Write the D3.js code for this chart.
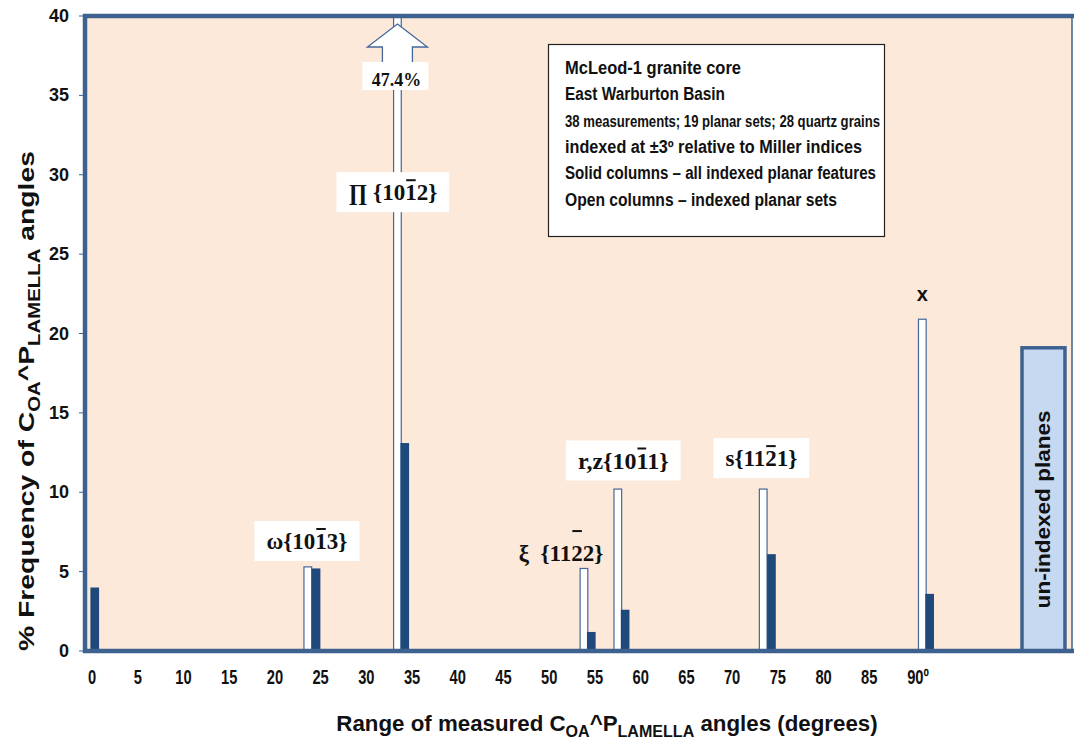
<!DOCTYPE html>
<html>
<head>
<meta charset="utf-8">
<script src="https://cdn.jsdelivr.net/npm/d3@7"></script>
<style>
  html, body { margin: 0; padding: 0; background: #ffffff; }
  svg { display: block; }
</style>
</head>
<body>
<svg id="chart" width="1075" height="749"></svg>
<script>
// Frequency of c-axis ^ lamella-pole angles, McLeod-1 granite core
const xTickValues = [0, 5, 10, 15, 20, 25, 30, 35, 40, 45, 50, 55, 60, 65, 70, 75, 80, 85, 90];
const yTickValues = [0, 5, 10, 15, 20, 25, 30, 35, 40];

// Open columns: indexed planar sets (%)
const openAngles = [23.6, 33.4, 53.8, 57.5, 73.4, 90.8];
const openValues = [5.3, 47.4, 5.2, 10.2, 10.2, 20.9];

// Solid columns: all indexed planar features (%)
const solidAngles = [0.3, 24.5, 34.2, 54.6, 58.3, 74.3, 91.6];
const solidValues = [4.0, 5.2, 13.1, 1.2, 2.6, 6.1, 3.6];

// Un-indexed planes column
const unindexedRange = [101.7, 106.4];
const unindexedValue = 19.1;

// Miller-index annotations: text, anchor angle, anchor value, overbar char index, boxed
const annotTexts = ["\u220F {1012}", "\u03C9{1013}", "\u03BE  {1122}", "r,z{1011}", "s{1121}"];
const annotAngles = [32.9, 23.5, 51.3, 58.1, 73.2];
const annotValues = [28.9, 6.93, 6.17, 12.0, 12.15];
const annotBarIdx = [5, 4, 6, 6, 4];
const annotBoxed = [true, true, false, true, true];

const legendLines = [
  "McLeod-1 granite core",
  "East Warburton Basin",
  "38 measurements; 19 planar sets; 28 quartz grains",
  "indexed at \u00B13\u00BA relative to Miller indices",
  "Solid columns \u2013 all indexed planar features",
  "Open columns \u2013 indexed planar sets"
];

const yMax = 40;
const clipLabel = "47.4%";

// ---- layout ----
const plot = { left: 85, right: 1072, top: 16, bottom: 651 };
const axisColor = "#3d6290";
const solidColor = "#1f487b";
const openStroke = "#45679a";
const bgColor = "#fde9d9";
const sansBold = "'Liberation Sans', Arial, sans-serif";
const serif = "'Liberation Serif', 'Times New Roman', 'DejaVu Serif', serif";
const legendWidths = [176, 160, 315, 297, 311, 272];
const legendSizes = [18, 18, 17, 18, 18, 18];

const svg = d3.select("#chart");

const x = d3.scaleLinear().domain([0, 90]).range([92, 915]);
const y = d3.scaleLinear().domain([0, yMax]).range([plot.bottom, plot.top]);
const barW = x(0.95) - x(0);

// squeeze text horizontally (condensed look)
function condense(sel, factor) {
  sel.each(function () {
    const len = this.getComputedTextLength();
    d3.select(this).attr("textLength", len * factor).attr("lengthAdjust", "spacingAndGlyphs");
  });
}

// plot background
svg.append("rect")
  .attr("x", plot.left).attr("y", plot.top)
  .attr("width", plot.right - plot.left).attr("height", plot.bottom - plot.top)
  .attr("fill", bgColor);

// open columns
svg.append("g").selectAll("rect")
  .data(openAngles.map((a, i) => ({ a, v: openValues[i] })))
  .join("rect")
  .attr("x", d => x(d.a) - barW / 2 + 0.5)
  .attr("y", d => y(Math.min(d.v, yMax)))
  .attr("width", barW - 1)
  .attr("height", d => y(0) - y(Math.min(d.v, yMax)))
  .attr("fill", "#ffffff")
  .attr("stroke", openStroke)
  .attr("stroke-width", 1.2);

// solid columns
svg.append("g").selectAll("rect")
  .data(solidAngles.map((a, i) => ({ a, v: solidValues[i] })))
  .join("rect")
  .attr("x", d => x(d.a) - barW / 2)
  .attr("y", d => y(d.v))
  .attr("width", barW)
  .attr("height", d => y(0) - y(d.v))
  .attr("fill", solidColor);

// un-indexed planes column
svg.append("rect")
  .attr("x", x(unindexedRange[0]))
  .attr("y", y(unindexedValue))
  .attr("width", x(unindexedRange[1]) - x(unindexedRange[0]))
  .attr("height", y(0) - y(unindexedValue))
  .attr("fill", "#c6d9f1")
  .attr("stroke", axisColor)
  .attr("stroke-width", 3.5);
svg.append("text")
  .attr("transform", `translate(${(x(unindexedRange[0]) + x(unindexedRange[1])) / 2 + 7},${(y(unindexedValue) + y(0)) / 2 + 10}) rotate(-90)`)
  .attr("text-anchor", "middle")
  .attr("font-family", sansBold).attr("font-weight", "bold").attr("font-size", 20)
  .attr("textLength", 198).attr("lengthAdjust", "spacingAndGlyphs")
  .attr("fill", "#111")
  .text("un-indexed planes");

// frame lines
svg.append("line").attr("x1", plot.left).attr("x2", plot.left).attr("y1", plot.top - 2).attr("y2", plot.bottom + 2)
  .attr("stroke", axisColor).attr("stroke-width", 4.5);
svg.append("line").attr("x1", plot.left - 2).attr("x2", plot.right + 2).attr("y1", plot.top).attr("y2", plot.top)
  .attr("stroke", axisColor).attr("stroke-width", 4.5);
svg.append("line").attr("x1", plot.left - 2).attr("x2", plot.right + 2).attr("y1", plot.bottom).attr("y2", plot.bottom)
  .attr("stroke", axisColor).attr("stroke-width", 4.5);
svg.append("line").attr("x1", plot.right).attr("x2", plot.right).attr("y1", plot.top).attr("y2", plot.bottom)
  .attr("stroke", axisColor).attr("stroke-width", 1.5);

// y axis ticks and labels
const yAxis = svg.append("g");
yAxis.selectAll("line").data(yTickValues).join("line")
  .attr("x1", plot.left - 6).attr("x2", plot.left)
  .attr("y1", d => y(d)).attr("y2", d => y(d))
  .attr("stroke", axisColor).attr("stroke-width", 1);
yAxis.selectAll("text").data(yTickValues).join("text")
  .attr("x", 69).attr("y", d => y(d) + 6)
  .attr("text-anchor", "end")
  .attr("font-family", sansBold).attr("font-weight", "bold").attr("font-size", 18)
  .attr("fill", "#111")
  .text(d => d);

// x tick labels (condensed digits); the last one carries a degree mark
const lastTick = xTickValues[xTickValues.length - 1];
const xAxis = svg.append("g");
const xLabels = xAxis.selectAll("text.tick").data(xTickValues).join("text")
  .attr("class", "tick")
  .attr("x", d => x(d) + (d === lastTick ? 3 : 0)).attr("y", 684)
  .attr("text-anchor", "middle")
  .attr("font-family", sansBold).attr("font-weight", "bold").attr("font-size", 21)
  .attr("fill", "#111")
  .text(d => d === lastTick ? d + "\u00BA" : d);
condense(xLabels, 0.7);

// axis titles with subscripts
function titleParts(sel, size) {
  sel.append("tspan").text("C");
  sel.append("tspan").attr("font-size", size * 0.72).attr("dy", size * 0.25).text("OA");
  sel.append("tspan").attr("dy", -size * 0.25).text("^P");
  sel.append("tspan").attr("font-size", size * 0.72).attr("dy", size * 0.25).text("LAMELLA");
  sel.append("tspan").attr("dy", -size * 0.25).text(" angles");
}
const xTitle = svg.append("text")
  .attr("x", 607).attr("y", 731)
  .attr("text-anchor", "middle")
  .attr("font-family", sansBold).attr("font-weight", "bold").attr("font-size", 22.3)
  .attr("fill", "#111");
xTitle.append("tspan").text("Range of measured ");
titleParts(xTitle, 22.3);
xTitle.append("tspan").text(" (degrees)");

const yTitle = svg.append("text")
  .attr("transform", "translate(34,401) rotate(-90)")
  .attr("text-anchor", "middle")
  .attr("font-family", sansBold).attr("font-weight", "bold").attr("font-size", 22)
  .attr("fill", "#111");
yTitle.append("tspan").text("% Frequency of ");
titleParts(yTitle, 22);
yTitle.attr("textLength", 500).attr("lengthAdjust", "spacingAndGlyphs");

// legend box
const lg = svg.append("g");
lg.append("rect").attr("x", 548.5).attr("y", 44.5).attr("width", 336).attr("height", 192)
  .attr("fill", "#ffffff").attr("stroke", "#222").attr("stroke-width", 1.2);
lg.selectAll("text").data(legendLines).join("text")
  .attr("x", 565).attr("y", (d, i) => 74 + i * 26.3)
  .attr("font-family", sansBold).attr("font-weight", "bold").attr("font-size", (d, i) => legendSizes[i])
  .attr("textLength", (d, i) => legendWidths[i]).attr("lengthAdjust", "spacingAndGlyphs")
  .attr("fill", "#111")
  .text(d => d);

// clipped column marker: arrow plus value label
const clipIdx = openValues.findIndex(v => v > yMax);
const cx = x(openAngles[clipIdx]);
const tipY = y(yMax) + 8;
svg.append("path")
  .attr("d", `M${cx},${tipY} L${cx + 30},${tipY + 23} L${cx + 15},${tipY + 23} L${cx + 15},${tipY + 40} L${cx - 15},${tipY + 40} L${cx - 15},${tipY + 23} L${cx - 30},${tipY + 23} Z`)
  .attr("fill", "#ffffff").attr("stroke", openStroke).attr("stroke-width", 1.3);
svg.append("rect").attr("x", cx - 35).attr("y", tipY + 38).attr("width", 66).attr("height", 28).attr("fill", "#ffffff");
svg.append("text").attr("x", cx - 1).attr("y", tipY + 62)
  .attr("text-anchor", "middle")
  .attr("font-family", serif).attr("font-weight", "bold").attr("font-size", 18)
  .attr("fill", "#111")
  .text(clipLabel);

// Miller-index annotations
annotTexts.forEach((txt, i) => {
  const g = svg.append("g");
  const ax = x(annotAngles[i]);
  const ay = y(annotValues[i]);
  const box = g.append("rect").attr("fill", "#ffffff");
  const t = g.append("text")
    .attr("x", ax).attr("y", ay + 8)
    .attr("text-anchor", "middle")
    .attr("font-family", serif).attr("font-weight", "bold").attr("font-size", i === 3 ? 24 : 23)
    .attr("fill", "#111")
    .attr("xml:space", "preserve")
    .text(txt);
  const bb = t.node().getBBox();
  if (annotBoxed[i]) {
    box.attr("x", bb.x - 12).attr("y", ay - 20).attr("width", bb.width + 24).attr("height", 40);
  } else {
    box.remove();
  }
  // overbar (bar notation for negative Miller index)
  const ext = t.node().getExtentOfChar(annotBarIdx[i]);
  const barY = i === 2 ? ay - 22 : ay - 12;
  g.append("line")
    .attr("x1", ext.x + 1).attr("x2", ext.x + ext.width - 1)
    .attr("y1", barY).attr("y2", barY)
    .attr("stroke", "#111").attr("stroke-width", 2);
});

// "x" marker above its open column
const xIdx = openAngles.length - 1;
svg.append("text")
  .attr("x", x(openAngles[xIdx])).attr("y", y(openValues[xIdx]) - 18)
  .attr("text-anchor", "middle")
  .attr("font-family", sansBold).attr("font-weight", "bold").attr("font-size", 20)
  .attr("fill", "#111")
  .text("x");
</script>
</body>
</html>
